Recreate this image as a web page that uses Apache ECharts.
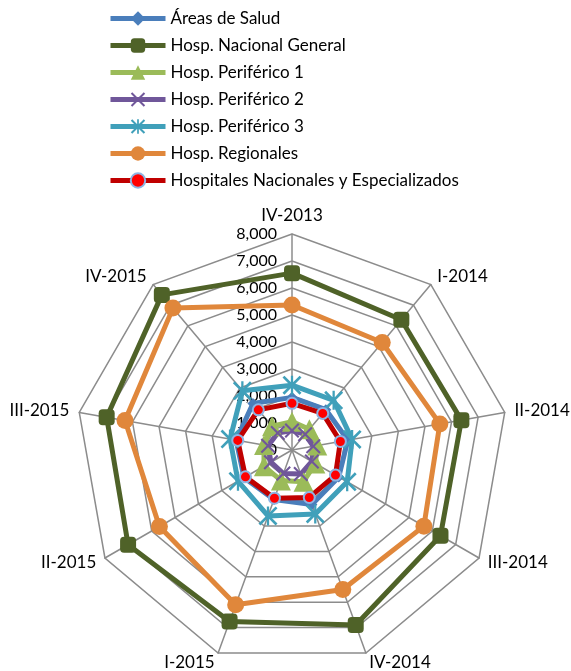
<!DOCTYPE html>
<html>
<head>
<meta charset="utf-8">
<script src="https://cdn.jsdelivr.net/npm/echarts@6/dist/echarts.min.js"></script>
<style>
  html, body { margin: 0; padding: 0; background: #fff; }
  #chart { width: 571px; height: 671px; }
</style>
</head>
<body>
<div id="chart"></div>
<script>
// ---- Data ----
const categories = ['IV-2013', 'I-2014', 'II-2014', 'III-2014', 'IV-2014', 'I-2015', 'II-2015', 'III-2015', 'IV-2015'];
const seriesNames = ['Áreas de Salud', 'Hosp. Nacional General', 'Hosp. Periférico 1', 'Hosp. Periférico 2', 'Hosp. Periférico 3', 'Hosp. Regionales', 'Hospitales Nacionales y Especializados'];
const areasSalud      = [1950, 1950, 2100, 2000, 2150, 1950, 2050, 2100, 2250];
const nacionalGeneral = [6550, 6300, 6370, 6350, 6900, 6760, 7010, 6970, 7500];
const periferico1     = [1050, 1000, 950, 1000, 1250, 1200, 1200, 1050, 1150];
const periferico2     = [720, 760, 800, 850, 950, 930, 900, 900, 820];
const periferico3     = [2400, 2400, 2260, 2360, 2520, 2600, 2310, 2330, 2860];
const regionales      = [5370, 5200, 5560, 5640, 5500, 6100, 5670, 6280, 6860];
const nacionalesEsp   = [1730, 1770, 1820, 1860, 1870, 1900, 1990, 2040, 1940];
const axisMax = 8000;

// ---- Styles ----
const FONT = 'Lato';
const X_PATH = 'path://M1,0 L5,4 L9,0 L10,1 L6,5 L10,9 L9,10 L5,6 L1,10 L0,9 L4,5 L0,1 Z';
const STAR_PATH = 'path://M1,0 L5,4 L9,0 L10,1 L6,5 L10,9 L9,10 L5,6 L1,10 L0,9 L4,5 L0,1 Z M4.4,0 L5.6,0 L5.6,10 L4.4,10 Z';
const styles = [
  { line: '#4A7EBB', fill: '#4A7EBB', symbol: 'diamond', size: 11 },
  { line: '#4F6228', fill: '#4F6228', symbol: 'roundRect', size: 16 },
  { line: '#9BBB59', fill: '#9BBB59', symbol: 'triangle', size: 20 },
  { line: '#70579A', fill: '#70579A', symbol: X_PATH, size: 15 },
  { line: '#40A0BA', fill: '#40A0BA', symbol: STAR_PATH, size: 19 },
  { line: '#E0873B', fill: '#E0873B', symbol: 'circle', size: 17 },
  { line: '#C00000', fill: '#FF0000', symbol: 'circle', size: 11, border: '#8EB4E3' }
];
const values = [areasSalud, nacionalGeneral, periferico1, periferico2, periferico3, regionales, nacionalesEsp];

// Radar in ECharts goes counter-clockwise; reorder so categories run clockwise.
const order = [0].concat(categories.map((_, i) => i).slice(1).reverse());
const reorder = arr => order.map(i => arr[i]);

const indicator = reorder(categories).map((name, k) => {
  const ind = { name: name, min: 0, max: axisMax };
  if (k === 0) {
    ind.axisLabel = { show: true, color: '#000', fontSize: 16, fontFamily: FONT, margin: 15 };
  }
  return ind;
});

function itemStyleOf(s) {
  const st = { color: s.fill, opacity: 1 };
  if (s.border) { st.borderColor = s.border; st.borderWidth = 2; }
  return st;
}

// Legend-only line series (empty) so legend shows line + marker
const legendSeries = seriesNames.map((name, i) => ({
  type: 'line',
  name: name,
  data: [],
  symbol: styles[i].symbol,
  symbolSize: styles[i].size,
  lineStyle: { color: styles[i].line, width: 5 },
  itemStyle: itemStyleOf(styles[i]),
  silent: true
}));

const radarSeries = seriesNames.map((name, i) => ({
  type: 'radar',
  name: name,
  symbol: styles[i].symbol,
  symbolSize: styles[i].size,
  lineStyle: { color: styles[i].line, width: 5, opacity: 1 },
  itemStyle: itemStyleOf(styles[i]),
  emphasis: { disabled: true },
  data: [{ name: name, value: reorder(values[i]) }]
}));

const chart = echarts.init(document.getElementById('chart'), null, { renderer: 'canvas' });
chart.setOption({
  animation: false,
  backgroundColor: '#fff',
  grid: { show: false, left: 0, top: 0, width: 1, height: 1 },
  xAxis: { show: false, type: 'category', data: [] },
  yAxis: { show: false, type: 'value' },
  legend: {
    orient: 'vertical',
    left: 108,
    top: 10,
    padding: 0,
    itemWidth: 55,
    itemHeight: 18,
    itemGap: 10,
    selectedMode: false,
    data: seriesNames,
    lineStyle: { width: 5 },
    textStyle: { color: '#000', fontSize: 17, fontFamily: FONT }
  },
  radar: {
    center: [292, 450],
    radius: 216,
    startAngle: 90,
    splitNumber: 8,
    shape: 'polygon',
    indicator: indicator,
    axisName: { color: '#000', fontSize: 17, fontFamily: FONT },
    nameGap: 10,
    axisLine: { show: true, lineStyle: { color: '#8c8c8c', width: 1.5 } },
    splitLine: { show: true, lineStyle: { color: '#8c8c8c', width: 1.5 } },
    splitArea: { show: false },
    axisTick: { show: false },
    axisLabel: { show: false }
  },
  series: legendSeries.concat(radarSeries)
});
</script>
</body>
</html>
